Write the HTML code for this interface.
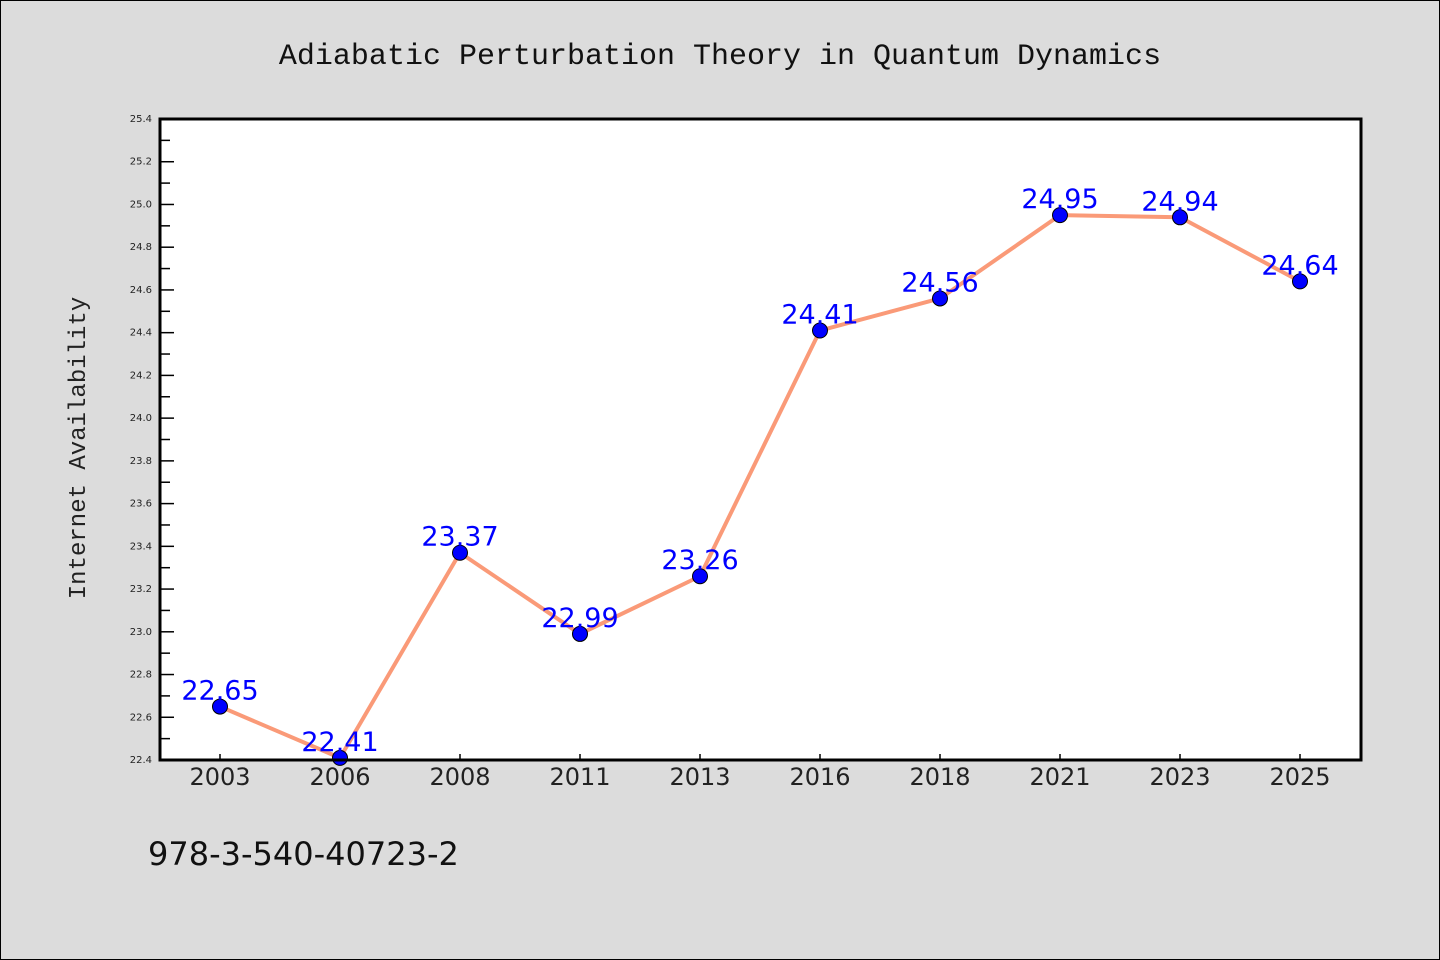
<!DOCTYPE html>
<html><head><meta charset="utf-8"><style>
body{margin:0;background:#dcdcdc;width:1440px;height:960px;overflow:hidden;font-family:"DejaVu Sans","Liberation Sans",sans-serif}
</style></head><body>
<svg width="1440" height="960" style="position:absolute;left:0;top:0">
<rect x="0.5" y="0.5" width="1439" height="959" fill="#dcdcdc" stroke="#000"/>
<text x="720" y="64" text-anchor="middle" font-family="'Liberation Mono',monospace" font-size="30" fill="#111">Adiabatic Perturbation Theory in Quantum Dynamics</text>
<rect x="160" y="119" width="1201" height="641" fill="#fff"/>
<g id="axes"></g>
<g id="marks"></g>
<rect x="160" y="119" width="1201" height="641" fill="none" stroke="#000" stroke-width="3"/>
<text transform="translate(85,448) rotate(-90)" text-anchor="middle" font-family="'Liberation Mono',monospace" font-size="24" fill="#222">Internet Availability</text>
<text x="148" y="865" font-size="32" font-family="'DejaVu Sans',sans-serif" fill="#111">978-3-540-40723-2</text>
</svg>
<script>
const categories=["2003","2006","2008","2011","2013","2016","2018","2021","2023","2025"];
const values=[22.65,22.41,23.37,22.99,23.26,24.41,24.56,24.95,24.94,24.64];
const labels=["22.65","22.41","23.37","22.99","23.26","24.41","24.56","24.95","24.94","24.64"];
const yTicks=["22.4","22.6","22.8","23.0","23.2","23.4","23.6","23.8","24.0","24.2","24.4","24.6","24.8","25.0","25.2","25.4"];
const yMin=22.4,yMax=25.4,plotTop=119,plotBot=760,plotLeft=160;
const NS="http://www.w3.org/2000/svg";
const yS=v=>plotBot-(v-yMin)/(yMax-yMin)*(plotBot-plotTop);
const xS=i=>220+i*120;
const axesG=document.getElementById('axes'),marksG=document.getElementById('marks');
function mk(t,a,p){const e=document.createElementNS(NS,t);for(const k in a)e.setAttribute(k,a[k]);p.appendChild(e);return e;}
yTicks.forEach(t=>{const v=parseFloat(t),y=yS(v);
 const l=mk('line',{x1:plotLeft,x2:plotLeft+14,y1:y,y2:y,stroke:'#000','stroke-width':1.5},axesG);
 
 
 const tx=mk('text',{x:152,y:y+3,'text-anchor':'end','font-size':10,fill:'#222'},axesG);tx.textContent=t;
 
 
 if(v<yMax-0.01){const ym=yS(v+0.1);const m=mk('line',{x1:plotLeft,x2:plotLeft+10,y1:ym,y2:ym,stroke:'#000','stroke-width':1.5},axesG);
 
 }
});
categories.forEach((c,i)=>{const x=xS(i);
 const l=mk('line',{x1:x,x2:x,y1:plotBot,y2:plotBot-6,stroke:'#000','stroke-width':1.5},axesG);
 
 
 const t=mk('text',{x:x,y:785,'text-anchor':'middle','font-size':24,fill:'#222'},axesG);t.textContent=c;
 
 
});
const line=mk('polyline',{points:values.map((v,i)=>xS(i)+','+yS(v)).join(' '),fill:'none',stroke:'#fa9a78','stroke-width':4,'stroke-linejoin':'round'},marksG);


values.forEach((v,i)=>{
 const c=mk('circle',{cx:xS(i),cy:yS(v),r:7.5,fill:'#0000ff',stroke:'#000','stroke-width':1},marksG);
 
 
 const t=mk('text',{x:xS(i),y:yS(v)-7,'text-anchor':'middle','font-size':27,fill:'#0000ff'},marksG);t.textContent=labels[i];
 
 
});
</script>
</body></html>
